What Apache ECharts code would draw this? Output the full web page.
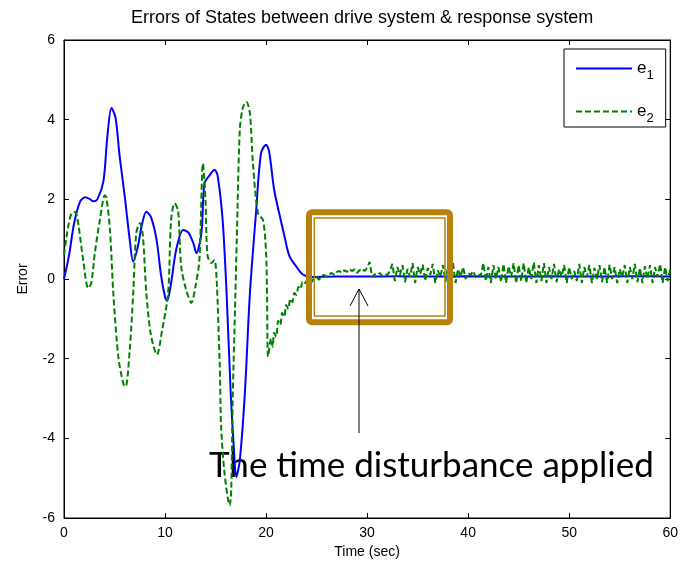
<!DOCTYPE html>
<html>
<head>
<meta charset="utf-8">
<script src="https://cdn.jsdelivr.net/npm/echarts@6/dist/echarts.min.js"></script>
<style>html,body{margin:0;padding:0;background:#fff}#c{width:681px;height:569px}</style>
</head>
<body>
<div id="c"></div>
<script>
const titleText = 'Errors of States between drive system & response system';
const xName = 'Time (sec)';
const yName = 'Error';
const xTicks = [0, 10, 20, 30, 40, 50, 60];
const yTicks = [-6, -4, -2, 0, 2, 4, 6];
const annotationText = 'The time disturbance applied';

const e1Time = [0,0.5,1.0,1.6,2.1,2.6,2.9,3.3,3.9,4.3,4.7,5.1,5.5,6.0,6.5,6.85,7.3,7.7,8.15,8.6,9.15,9.6,10.0,10.2,10.6,11.1,11.8,12.3,12.8,13.1,13.6,13.9,14.4,14.9,15.2,15.7,16.1,16.5,16.8,17.05,17.4,17.9,18.4,19.0,19.5,20.0,20.3,20.8,21.3,21.8,22.3,23.0,23.6,24.4,27,30,33,36,40,44,48,52,56,60];
const e1Value = [0,0.6,1.4,1.95,2.05,2.0,1.95,2.0,2.45,3.6,4.29,4.05,3.1,2.1,1.0,0.44,0.8,1.35,1.69,1.56,1.0,0.1,-0.45,-0.55,-0.1,0.73,1.23,1.17,0.9,0.65,1.15,2.4,2.6,2.74,2.6,1.48,-0.4,-2.87,-4.2,-4.97,-4.55,-2.87,-0.36,1.65,3.16,3.37,3.2,2.24,1.65,1.1,0.58,0.31,0.12,0.05,0.06,0.06,0.07,0.06,0.07,0.06,0.07,0.06,0.07,0.06];

const e2Time = [0,0.4,0.75,1.1,1.4,1.9,2.4,2.7,3.05,3.55,4.05,4.2,4.55,4.9,5.4,5.9,6.1,6.5,6.85,7.15,7.5,7.8,8.15,8.6,9.2,9.7,10.3,10.6,10.95,11.3,11.6,12.1,12.6,13.0,13.4,13.75,14.0,14.2,14.6,14.9,15.4,15.55,15.9,16.4,16.55,16.7,16.95,17.1,17.4,17.7,18.05,18.4,18.7,19.2,19.7,20.0,20.1,20.2,20.5,20.65,20.8,21.0,21.2,21.4,21.6,21.8,22.0,22.2,22.4,22.6,22.8,23.0,23.2,23.4,23.6,23.8];
const e2Value = [0.6,1.3,1.65,1.68,1.4,0.47,-0.23,-0.1,0.65,1.48,2.1,2.05,1.23,-0.44,-2.0,-2.65,-2.7,-1.8,-0.36,1.15,1.4,1.1,-0.36,-1.4,-1.9,-1.3,-0.36,1.48,1.9,1.7,0.31,-0.28,-0.6,-0.2,0.48,2.9,2.0,0.6,0.4,0.48,-2.03,-3.7,-4.9,-5.68,-5.3,-3.0,-0.5,1.0,3.74,4.3,4.45,4.16,2.9,1.65,1.48,0.65,-0.5,-1.95,-1.5,-1.7,-1.35,-1.45,-1.05,-1.15,-0.85,-0.95,-0.65,-0.75,-0.5,-0.58,-0.35,-0.4,-0.2,-0.25,-0.08,-0.12];

// sampled after 24 s every 0.25 s
const e2NoiseStart = 24;
const e2NoiseStep = 0.25;
const e2Noise = [
 -0.05,0.0,-0.08,0.02,0.05,-0.02,0.08,0.1,0.06,0.12,0.15,0.1,0.18,
 0.2,0.15,0.22,0.18,0.25,0.2,0.24,0.15,0.22,0.26,0.2,0.28,
 0.43,0.05,0.12,0.1,0.15,0.08,0.12,0.1,0.2,0.38,-0.05,0.3,
 0.1,0.35,-0.08,0.25,0.05,0.4,-0.1,0.3,0.12,0.36,-0.05,0.28,
 0.1,0.38,-0.1,0.22,0.05,0.35,-0.08,0.3,0.0,0.4,-0.1,0.25,
 0.05,0.3,0.0,0.15,0.1,0.2,0.05,0.12,0.08,0.4,-0.05,0.3,
 -0.1,0.35,0.0,0.3,-0.08,0.38,-0.1,0.32,0.05,0.4,-0.1,0.35,
 -0.05,0.4,-0.1,0.3,0.0,0.42,-0.1,0.35,-0.05,0.4,-0.1,0.3,
 0.0,0.38,-0.08,0.25,0.05,0.35,-0.1,0.3,0.0,0.2,-0.05,0.38,
 -0.1,0.3,0.05,0.35,-0.1,0.28,0.0,0.35,-0.08,0.3,-0.1,0.36,
 0.0,0.3,-0.1,0.25,0.05,0.35,-0.1,0.3,0.0,0.38,-0.08,0.28,
 -0.1,0.32,0.0,0.35,-0.1,0.3,0.05,0.38,-0.1,0.3,-0.05,0.25
];

const e1Data = e1Time.map((t, i) => [t, e1Value[i]]);
const e2Data = e2Time.map((t, i) => [t, e2Value[i]]);
const e2NoiseData = [e2Data[e2Data.length - 1]]
  .concat(e2Noise.map((v, i) => [e2NoiseStart + i * e2NoiseStep, v]));

const FONT = '"Liberation Sans", Arial, sans-serif';
const chart = echarts.init(document.getElementById('c'), null, {renderer: 'canvas'});

function axisCommon() {
  return {
    axisLine: {show: true, onZero: false, lineStyle: {color: '#000', width: 1}},
    axisTick: {show: true, inside: true, length: 5, lineStyle: {color: '#000'}},
    splitLine: {show: false}
  };
}

const e2Style = {color: '#008000', width: 2, type: [6, 3]};

chart.setOption({
  animation: false,
  backgroundColor: '#fff',
  title: {
    text: titleText, left: 126, top: 4,
    textStyle: {fontFamily: FONT, fontSize: 18, fontWeight: 'normal', color: '#000'}
  },
  grid: {left: 64, right: 9, top: 40, bottom: 51, show: true, borderColor: '#000', borderWidth: 1, backgroundColor: '#fff'},
  legend: {
    orient: 'vertical', left: 564, top: 49,
    itemWidth: 56, itemHeight: 20, itemGap: 16,
    padding: [6, 12, 2, 11],
    backgroundColor: '#fff', borderColor: '#000', borderWidth: 1, borderRadius: 0,
    data: ['e1', 'e2'],
    itemStyle: {opacity: 0, borderWidth: 0},
    formatter: function (n) { return '{e|e}{s|' + n.slice(1) + '}'; },
    textStyle: {
      color: '#000',
      rich: {
        e: {fontFamily: FONT, fontSize: 17, lineHeight: 20, color: '#000'},
        s: {fontFamily: FONT, fontSize: 13, lineHeight: 13, padding: [14, 0, 0, 0], color: '#000'}
      }
    }
  },
  xAxis: [
    Object.assign({
      type: 'value', min: xTicks[0], max: xTicks[xTicks.length - 1], interval: 10, position: 'bottom',
      name: xName, nameLocation: 'middle', nameGap: 27,
      nameTextStyle: {fontFamily: FONT, fontSize: 14, color: '#000'},
      axisLabel: {fontFamily: FONT, fontSize: 14, color: '#000', margin: 8}
    }, axisCommon()),
    Object.assign({
      type: 'value', min: xTicks[0], max: xTicks[xTicks.length - 1], interval: 10, position: 'top',
      axisLabel: {show: false}
    }, axisCommon())
  ],
  yAxis: [
    Object.assign({
      type: 'value', min: yTicks[0], max: yTicks[yTicks.length - 1], interval: 2, position: 'left',
      name: yName, nameLocation: 'middle', nameGap: 34,
      nameTextStyle: {fontFamily: FONT, fontSize: 14, color: '#000'},
      axisLabel: {fontFamily: FONT, fontSize: 14, color: '#000', margin: 9}
    }, axisCommon()),
    Object.assign({
      type: 'value', min: yTicks[0], max: yTicks[yTicks.length - 1], interval: 2, position: 'right',
      axisLabel: {show: false}
    }, axisCommon())
  ],
  series: [
    {
      name: 'e1', type: 'line', data: e1Data, symbol: 'none', smooth: 0.3, z: 3,
      lineStyle: {color: '#0000ff', width: 2}, itemStyle: {color: '#0000ff'}
    },
    {
      name: 'e2', type: 'line', data: e2Data, symbol: 'none', smooth: 0.3, z: 4,
      lineStyle: e2Style, itemStyle: {color: '#008000'}
    },
    {
      name: 'e2', type: 'line', data: e2NoiseData, symbol: 'none', smooth: false, z: 4,
      lineStyle: e2Style, itemStyle: {color: '#008000'}
    }
  ],
  graphic: [
    {
      type: 'text', z: 1,
      style: {x: 209, y: 466, text: annotationText, font: '35px Lato, "Open Sans", sans-serif', fill: '#000', textAlign: 'left', verticalAlign: 'middle'}
    },
    {
      type: 'rect', z: 100,
      shape: {x: 309, y: 212.3, width: 141, height: 110, r: 3},
      style: {fill: null, stroke: '#B5830C', lineWidth: 6}
    },
    {
      type: 'rect', z: 100,
      shape: {x: 314.3, y: 218, width: 130.7, height: 98},
      style: {fill: null, stroke: '#B5830C', lineWidth: 1.5}
    },
    {
      type: 'line', z: 100,
      shape: {x1: 359, y1: 433, x2: 359, y2: 289},
      style: {stroke: '#000', lineWidth: 1}
    },
    {
      type: 'polyline', z: 100,
      shape: {points: [[350, 306], [359, 289], [368, 306]]},
      style: {stroke: '#000', lineWidth: 1, fill: null}
    }
  ]
});
</script>
</body>
</html>
